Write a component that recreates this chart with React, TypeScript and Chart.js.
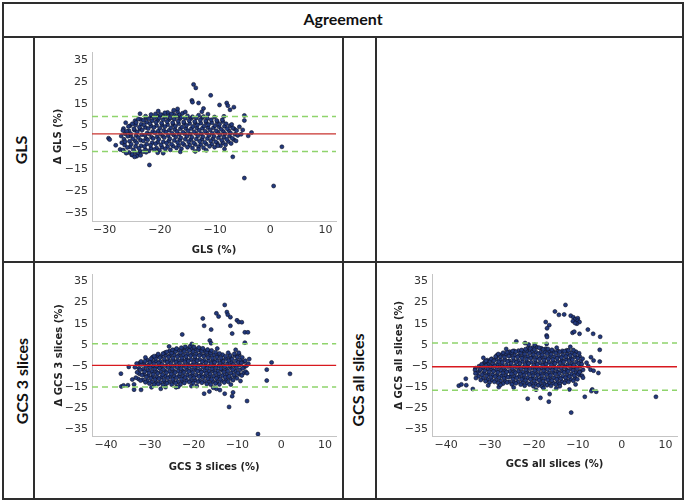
import React, { useEffect, useRef } from "react";
import { Chart, registerables } from "chart.js";

Chart.register(...registerables);

// ---------- data ----------
const Y_TICKS = [-35, -25, -15, -5, 5, 15, 25, 35];
const GLS_X_TICKS = [-30, -20, -10, 0, 10];
const GCS_X_TICKS = [-40, -30, -20, -10, 0, 10];

const GLS_X_RANGE = [-32.3, 11.9];
const GLS_Y_RANGE = [-38.6, 38.6];
const GCS_X_RANGE = [-43.2, 12.6];
const GCS_Y_RANGE = [-38.3, 38.3];

// [upper limit, mean bias, lower limit]
const GLS_LIMITS = [9.1, 1.2, -6.8];
const GCS3_LIMITS = [5.5, -4.8, -15.1];
const GCSALL_LIMITS = [5.8, -5.4, -16.6];

const GLS_POINTS: number[][] = [
  [-27.2, -5.9], [-26.9, -2.8], [-27.0, 0.2], [-26.7, 2.7],
  [-26.1, -7.6], [-25.9, -5.0], [-26.3, -2.4], [-25.8, 0.1], [-26.0, 2.4], [-25.7, 4.6],
  [-25.1, -8.4], [-24.8, -6.1], [-25.2, -3.5], [-24.9, -1.0], [-25.3, 1.3], [-24.7, 3.5], [-25.0, 5.8],
  [-24.0, -7.9], [-23.8, -5.4], [-24.2, -2.9], [-23.9, -0.5], [-24.1, 2.0], [-23.7, 4.2], [-24.3, 6.4], [-23.9, 8.0],
  [-23.1, -7.0], [-22.8, -4.6], [-23.0, -2.0], [-22.7, 0.6], [-23.2, 3.0], [-22.9, 5.3], [-23.0, 7.4], [-22.6, 9.3],
  [-22.0, -6.6], [-21.7, -4.0], [-22.2, -1.5], [-21.9, 1.1], [-22.1, 3.6], [-21.8, 5.9], [-22.0, 8.1], [-21.6, 10.0],
  [-21.0, -6.0], [-20.8, -3.3], [-21.2, -0.9], [-20.9, 1.7], [-21.1, 4.1], [-20.7, 6.5], [-21.0, 8.6], [-20.8, 10.3],
  [-20.1, -6.3], [-19.8, -3.8], [-20.2, -1.2], [-19.9, 1.3], [-20.0, 3.8], [-19.7, 6.1], [-20.1, 8.4], [-19.9, 10.1],
  [-19.0, -5.7], [-18.8, -3.0], [-19.2, -0.5], [-18.9, 2.0], [-19.1, 4.5], [-18.7, 6.8], [-19.0, 8.9], [-18.6, 11.0],
  [-18.1, -6.1], [-17.9, -3.5], [-18.2, -1.0], [-17.8, 1.5], [-18.0, 4.0], [-17.7, 6.3], [-18.1, 8.5], [-17.9, 10.4],
  [-17.0, -5.2], [-16.8, -2.7], [-17.1, -0.2], [-16.9, 2.3], [-17.2, 4.7], [-16.7, 7.0], [-17.0, 9.2], [-16.8, 11.3],
  [-16.1, -5.6], [-15.9, -3.1], [-16.2, -0.6], [-15.8, 1.9], [-16.0, 4.3], [-15.7, 6.6], [-16.1, 8.8], [-15.9, 10.6],
  [-15.0, -4.9], [-14.8, -2.4], [-15.1, 0.1], [-14.9, 2.6], [-15.2, 5.0], [-14.7, 7.3], [-15.0, 9.4],
  [-14.1, -5.3], [-13.9, -2.8], [-14.2, -0.3], [-13.8, 2.2], [-14.0, 4.6], [-13.7, 6.9], [-14.1, 9.0],
  [-13.0, -4.8], [-12.8, -2.2], [-13.1, 0.3], [-12.9, 2.8], [-13.2, 5.2], [-12.7, 7.5], [-13.0, 9.7],
  [-12.1, -5.1], [-11.9, -2.6], [-12.2, -0.1], [-11.8, 2.4], [-12.0, 4.8], [-11.7, 7.1], [-12.1, 9.1],
  [-11.0, -4.5], [-10.8, -2.0], [-11.1, 0.5], [-10.9, 3.0], [-11.2, 5.4], [-10.7, 7.6],
  [-10.1, -4.9], [-9.9, -2.4], [-10.2, 0.1], [-9.8, 2.6], [-10.0, 5.0], [-9.7, 7.3], [-10.1, 8.9],
  [-9.0, -4.2], [-8.8, -1.7], [-9.1, 0.8], [-8.9, 3.3], [-9.2, 5.6], [-8.7, 7.6],
  [-8.1, -3.8], [-7.9, -1.3], [-8.2, 1.2], [-7.8, 3.6], [-8.0, 5.8],
  [-7.1, -3.2], [-6.9, -0.8], [-7.2, 1.6], [-6.8, 3.9], [-7.0, 5.5],
  [-6.2, -2.0], [-5.9, 0.5], [-6.1, 2.7], [-5.6, 4.4],
  [-5.3, 1.0], [-5.0, 3.0],
  [-13.9, 23.8], [-13.5, 22.2], [-10.8, 18.8], [-14.2, 16.5], [-14.1, 15.7], [-13.0, 15.3],
  [-9.2, 14.4], [-7.9, 15.3], [-7.7, 14.1], [-6.6, 13.4], [-7.3, 12.2], [-12.1, 12.8], [-12.4, 11.3],
  [-17.5, 12.0], [-16.8, 12.6], [-19.1, 10.8], [-4.7, 9.6], [-4.7, 7.3], [-4.0, 0.3], [-3.4, 1.8],
  [-29.3, -0.8], [-29.1, -1.4], [2.1, -4.7], [0.6, -22.6], [-4.7, -19.0], [-6.8, -9.3], [-21.9, -13.0],
  [-26.7, -6.2], [-25.0, -8.2], [-22.5, -7.2], [-13.6, -6.8], [-13.0, -5.9], [-9.5, -4.2],
  [-24.2, -9.0], [-23.5, -8.6], [-20.4, -7.4],
  [-23.6, 10.4], [-20.3, 11.6], [-15.4, 11.2], [-11.3, 10.2], [-8.4, 9.2], [-26.2, 6.3],
  [-24.6, -9.3], [-19.4, -7.6], [-16.3, -7.0], [-11.6, -6.3], [-8.3, -5.7], [-28.0, -4.0],
];

const GLS_FILL: number[][] = [
  [-26.6, -6.5], [-26.4, -3.9], [-26.5, -1.3], [-26.3, 1.3], [-26.6, 3.6],
  [-25.6, -7.3], [-25.4, -4.8], [-25.5, -2.2], [-25.3, 0.3], [-25.6, 2.6], [-25.4, 4.9],
  [-24.6, -7.0], [-24.4, -4.5], [-24.5, -2.0], [-24.3, 0.5], [-24.6, 2.9], [-24.4, 5.2], [-24.5, 7.2],
  [-23.6, -6.7], [-23.4, -4.2], [-23.5, -1.7], [-23.3, 0.8], [-23.6, 3.3], [-23.4, 5.6], [-23.5, 7.8],
  [-22.6, -6.0], [-22.4, -3.4], [-22.5, -0.9], [-22.3, 1.6], [-22.6, 4.1], [-22.4, 6.5], [-22.5, 8.6],
  [-21.6, -5.4], [-21.4, -2.8], [-21.5, -0.3], [-21.3, 2.3], [-21.6, 4.8], [-21.4, 7.2], [-21.5, 9.3],
  [-20.6, -5.2], [-20.4, -2.6], [-20.5, -0.1], [-20.3, 2.5], [-20.6, 5.0], [-20.4, 7.4], [-20.5, 9.4],
  [-19.6, -4.9], [-19.4, -2.4], [-19.5, 0.2], [-19.3, 2.7], [-19.6, 5.2], [-19.4, 7.6], [-19.5, 9.7],
  [-18.6, -4.6], [-18.4, -2.1], [-18.5, 0.4], [-18.3, 2.9], [-18.6, 5.4], [-18.4, 7.7], [-18.5, 9.9],
  [-17.6, -4.4], [-17.4, -1.8], [-17.5, 0.7], [-17.3, 3.2], [-17.6, 5.6], [-17.4, 7.9], [-17.5, 10.1],
  [-16.6, -4.1], [-16.4, -1.5], [-16.5, 1.0], [-16.3, 3.5], [-16.6, 5.8], [-16.4, 8.1], [-16.5, 10.0],
  [-15.6, -3.8], [-15.4, -1.3], [-15.5, 1.2], [-15.3, 3.7], [-15.6, 6.0], [-15.4, 8.3],
  [-14.6, -3.9], [-14.4, -1.4], [-14.5, 1.1], [-14.3, 3.6], [-14.6, 5.9], [-14.4, 8.2],
  [-13.6, -3.6], [-13.4, -1.1], [-13.5, 1.4], [-13.3, 3.9], [-13.6, 6.2], [-13.4, 8.5],
  [-12.6, -3.7], [-12.4, -1.2], [-12.5, 1.3], [-12.3, 3.8], [-12.6, 6.1], [-12.4, 8.4],
  [-11.6, -3.4], [-11.4, -0.9], [-11.5, 1.6], [-11.3, 4.1], [-11.6, 6.4], [-11.4, 8.2],
  [-10.6, -3.5], [-10.4, -1.0], [-10.5, 1.5], [-10.3, 4.0], [-10.6, 6.3],
  [-9.6, -3.1], [-9.4, -0.6], [-9.5, 1.9], [-9.3, 4.4], [-9.6, 6.6],
  [-8.6, -2.8], [-8.4, -0.2], [-8.5, 2.3], [-8.3, 4.7], [-8.6, 6.8],
  [-7.6, -2.3], [-7.4, 0.2], [-7.5, 2.6], [-7.3, 4.9],
  [-6.6, -1.5], [-6.4, 1.0], [-6.5, 3.4],
];

const GCS3_POINTS: number[][] = [
  [-33.2, -10.6], [-32.9, -8.1], [-33.4, -5.7], [-33.0, -3.9],
  [-32.1, -12.0], [-31.8, -9.4], [-32.2, -6.9], [-31.9, -4.4], [-32.0, -2.9],
  [-31.0, -12.8], [-30.8, -10.3], [-31.2, -7.8], [-30.9, -5.3], [-31.1, -2.8],
  [-30.1, -13.4], [-29.8, -10.9], [-30.2, -8.4], [-29.9, -5.9], [-30.0, -3.4], [-29.7, -1.6],
  [-29.0, -13.9], [-28.8, -11.5], [-29.2, -9.0], [-28.9, -6.5], [-29.1, -4.0], [-28.7, -1.5], [-29.0, -0.4],
  [-28.1, -13.6], [-27.9, -11.1], [-28.2, -8.6], [-27.8, -6.1], [-28.0, -3.6], [-27.7, -1.1], [-28.1, 0.6],
  [-27.0, -14.1], [-26.8, -11.7], [-27.1, -9.2], [-26.9, -6.7], [-27.2, -4.2], [-26.7, -1.7], [-27.0, 0.8],
  [-26.1, -13.3], [-25.9, -10.8], [-26.2, -8.3], [-25.8, -5.8], [-26.0, -3.3], [-25.7, -0.8], [-26.1, 1.6],
  [-25.0, -13.9], [-24.8, -11.4], [-25.1, -8.9], [-24.9, -6.4], [-25.2, -3.9], [-24.7, -1.4], [-25.0, 1.1], [-24.8, 2.6],
  [-24.1, -13.2], [-23.9, -10.7], [-24.2, -8.2], [-23.8, -5.7], [-24.0, -3.2], [-23.7, -0.7], [-24.1, 1.8], [-23.9, 3.2],
  [-23.0, -13.8], [-22.8, -11.3], [-23.1, -8.8], [-22.9, -6.3], [-23.2, -3.8], [-22.7, -1.3], [-23.0, 1.2], [-22.8, 3.6],
  [-22.1, -13.1], [-21.9, -10.6], [-22.2, -8.1], [-21.8, -5.6], [-22.0, -3.1], [-21.7, -0.6], [-22.1, 1.9], [-21.9, 4.1],
  [-21.0, -12.7], [-20.8, -10.2], [-21.1, -7.7], [-20.9, -5.2], [-21.2, -2.7], [-20.7, -0.2], [-21.0, 2.3], [-20.8, 4.3],
  [-20.1, -13.2], [-19.9, -10.7], [-20.2, -8.2], [-19.8, -5.7], [-20.0, -3.2], [-19.7, -0.7], [-20.1, 1.8], [-19.9, 3.9],
  [-19.0, -12.6], [-18.8, -10.1], [-19.1, -7.6], [-18.9, -5.1], [-19.2, -2.6], [-18.7, -0.1], [-19.0, 2.4], [-18.8, 3.7],
  [-18.1, -13.0], [-17.9, -10.5], [-18.2, -8.0], [-17.8, -5.5], [-18.0, -3.0], [-17.7, -0.5], [-18.1, 2.0], [-17.9, 3.3],
  [-17.0, -13.6], [-16.8, -11.1], [-17.1, -8.6], [-16.9, -6.1], [-17.2, -3.6], [-16.7, -1.1], [-17.0, 1.4], [-16.8, 2.7],
  [-16.1, -13.9], [-15.9, -11.4], [-16.2, -8.9], [-15.8, -6.4], [-16.0, -3.9], [-15.7, -1.4], [-16.1, 1.1], [-15.9, 2.3],
  [-15.0, -13.4], [-14.8, -10.9], [-15.1, -8.4], [-14.9, -5.9], [-15.2, -3.4], [-14.7, -0.9], [-15.0, 1.5],
  [-14.1, -13.8], [-13.9, -11.3], [-14.2, -8.8], [-13.8, -6.3], [-14.0, -3.8], [-13.7, -1.3], [-14.1, 0.9],
  [-13.0, -12.9], [-12.8, -10.4], [-13.1, -7.9], [-12.9, -5.4], [-13.2, -2.9], [-12.7, -0.4],
  [-12.1, -12.5], [-11.9, -10.0], [-12.2, -7.5], [-11.8, -5.0], [-12.0, -2.5], [-11.7, 0.0], [-12.1, 1.2],
  [-11.0, -11.8], [-10.8, -9.3], [-11.1, -6.8], [-10.9, -4.3], [-11.2, -1.8], [-10.7, 0.7],
  [-10.1, -10.9], [-9.9, -8.4], [-10.2, -5.9], [-9.8, -3.4], [-10.0, -0.9], [-9.7, 1.2],
  [-9.0, -9.6], [-8.8, -6.2], [-9.1, -3.6], [-8.9, -1.0],
  [-8.1, -7.8], [-7.9, -4.9], [-8.2, -2.6],
  [-12.9, 23.9], [-12.4, 20.5], [-12.2, 19.3], [-14.8, 19.9], [-14.3, 18.4], [-11.6, 18.1],
  [-17.9, 17.5], [-17.6, 14.0], [-10.1, 16.6], [-9.7, 15.8], [-9.0, 15.7], [-11.6, 14.0],
  [-16.0, 12.2], [-11.2, 10.3], [-8.3, 10.9], [-7.6, 10.9], [-22.6, 9.9], [-16.3, 7.0], [-16.0, 5.7],
  [-8.3, 6.0], [-7.3, -1.8], [-2.2, -3.4], [-3.3, -6.8], [2.0, -8.8], [-3.3, -12.0],
  [-36.6, -8.7], [-36.5, -14.8], [-36.0, -14.3], [-35.0, -14.2], [-33.6, -13.8], [-32.0, -16.4],
  [-33.6, -16.3], [-34.0, -11.5], [-27.5, -15.9], [-26.4, -15.1], [-17.6, -18.2], [-16.4, -17.2],
  [-14.8, -15.9], [-12.9, -18.2], [-11.2, -19.4], [-11.0, -17.6], [-11.9, -24.5], [-7.8, -21.7],
  [-5.3, -37.4], [-7.8, -8.5], [-7.5, -4.0], [-34.8, -5.5], [-14.0, -16.5], [-20.5, -14.6], [-24.0, -15.2],
  [-25.6, 4.2], [-20.4, 5.4], [-14.6, 3.2], [-10.4, 2.6], [-31.0, -1.0],
  [-29.6, -15.2], [-23.5, -14.9], [-19.3, -14.6], [-15.5, -15.4], [-11.5, -13.9], [-9.3, -12.2],
];

const GCS3_FILL: number[][] = [
  [-32.6, -11.2], [-32.4, -8.7], [-32.5, -6.2], [-32.3, -3.6],
  [-31.6, -11.6], [-31.4, -9.1], [-31.5, -6.6], [-31.3, -4.1],
  [-30.6, -12.1], [-30.4, -9.6], [-30.5, -7.1], [-30.3, -4.6], [-30.6, -2.2],
  [-29.6, -12.7], [-29.4, -10.2], [-29.5, -7.7], [-29.3, -5.2], [-29.6, -2.7], [-29.4, -0.9],
  [-28.6, -12.8], [-28.4, -10.3], [-28.5, -7.8], [-28.3, -5.3], [-28.6, -2.8], [-28.4, -0.3],
  [-27.6, -12.9], [-27.4, -10.4], [-27.5, -7.9], [-27.3, -5.4], [-27.6, -2.9], [-27.4, -0.4],
  [-26.6, -12.5], [-26.4, -10.0], [-26.5, -7.5], [-26.3, -5.0], [-26.6, -2.5], [-26.4, 0.0], [-26.5, 1.3],
  [-25.6, -12.6], [-25.4, -10.1], [-25.5, -7.6], [-25.3, -5.1], [-25.6, -2.6], [-25.4, -0.1], [-25.5, 2.0],
  [-24.6, -12.4], [-24.4, -9.9], [-24.5, -7.4], [-24.3, -4.9], [-24.6, -2.4], [-24.4, 0.1], [-24.5, 2.4],
  [-23.6, -12.5], [-23.4, -10.0], [-23.5, -7.5], [-23.3, -5.0], [-23.6, -2.5], [-23.4, 0.0], [-23.5, 2.5],
  [-22.6, -12.3], [-22.4, -9.8], [-22.5, -7.3], [-22.3, -4.8], [-22.6, -2.3], [-22.4, 0.2], [-22.5, 2.7],
  [-21.6, -11.9], [-21.4, -9.4], [-21.5, -6.9], [-21.3, -4.4], [-21.6, -1.9], [-21.4, 0.6], [-21.5, 3.1],
  [-20.6, -12.0], [-20.4, -9.5], [-20.5, -7.0], [-20.3, -4.5], [-20.6, -2.0], [-20.4, 0.5], [-20.5, 3.0],
  [-19.6, -11.8], [-19.4, -9.3], [-19.5, -6.8], [-19.3, -4.3], [-19.6, -1.8], [-19.4, 0.7], [-19.5, 2.9],
  [-18.6, -12.0], [-18.4, -9.5], [-18.5, -7.0], [-18.3, -4.5], [-18.6, -2.0], [-18.4, 0.5], [-18.5, 2.6],
  [-17.6, -12.3], [-17.4, -9.8], [-17.5, -7.3], [-17.3, -4.8], [-17.6, -2.3], [-17.4, 0.2], [-17.5, 2.2],
  [-16.6, -12.6], [-16.4, -10.1], [-16.5, -7.6], [-16.3, -5.1], [-16.6, -2.6], [-16.4, -0.1], [-16.5, 1.8],
  [-15.6, -12.4], [-15.4, -9.9], [-15.5, -7.4], [-15.3, -4.9], [-15.6, -2.4], [-15.4, 0.1],
  [-14.6, -12.5], [-14.4, -10.0], [-14.5, -7.5], [-14.3, -5.0], [-14.6, -2.5], [-14.4, 0.0],
  [-13.6, -12.1], [-13.4, -9.6], [-13.5, -7.1], [-13.3, -4.6], [-13.6, -2.1], [-13.4, 0.3],
  [-12.6, -11.5], [-12.4, -9.0], [-12.5, -6.5], [-12.3, -4.0], [-12.6, -1.5],
  [-11.6, -10.9], [-11.4, -8.4], [-11.5, -5.9], [-11.3, -3.4], [-11.6, -0.9],
  [-10.6, -10.1], [-10.4, -7.6], [-10.5, -5.1], [-10.3, -2.6], [-10.6, -0.1],
  [-9.6, -9.0], [-9.4, -6.9], [-9.5, -4.6], [-9.3, -2.2], [-9.6, 0.3],
  [-8.6, -8.4], [-8.4, -5.6], [-8.5, -3.1],
];

const GCSALL_POINTS: number[][] = [
  [-33.2, -10.8], [-32.9, -8.4], [-33.3, -6.1],
  [-32.1, -11.7], [-31.8, -9.2], [-32.2, -6.7], [-31.9, -4.3],
  [-31.0, -12.3], [-30.8, -9.8], [-31.2, -7.3], [-30.9, -4.8], [-31.1, -3.1],
  [-30.1, -12.9], [-29.8, -10.4], [-30.2, -7.9], [-29.9, -5.4], [-30.0, -2.9], [-29.7, -1.8],
  [-29.0, -12.6], [-28.8, -10.1], [-29.2, -7.6], [-28.9, -5.1], [-29.1, -2.6], [-28.7, -0.6],
  [-28.1, -13.1], [-27.9, -10.6], [-28.2, -8.1], [-27.8, -5.6], [-28.0, -3.1], [-27.7, -0.6], [-28.1, 0.6],
  [-27.0, -13.4], [-26.8, -10.9], [-27.1, -8.4], [-26.9, -5.9], [-27.2, -3.4], [-26.7, -0.9], [-27.0, 1.2],
  [-26.1, -12.9], [-25.9, -10.4], [-26.2, -7.9], [-25.8, -5.4], [-26.0, -2.9], [-25.7, -0.4], [-26.1, 1.5],
  [-25.0, -13.8], [-24.8, -11.3], [-25.1, -8.8], [-24.9, -6.3], [-25.2, -3.8], [-24.7, -1.3], [-25.0, 1.2], [-24.8, 2.0],
  [-24.1, -13.3], [-23.9, -10.8], [-24.2, -8.3], [-23.8, -5.8], [-24.0, -3.3], [-23.7, -0.8], [-24.1, 1.7],
  [-23.0, -13.9], [-22.8, -11.4], [-23.1, -8.9], [-22.9, -6.4], [-23.2, -3.9], [-22.7, -1.4], [-23.0, 1.1], [-22.8, 2.5],
  [-22.1, -14.4], [-21.9, -11.9], [-22.2, -9.4], [-21.8, -6.9], [-22.0, -4.4], [-21.7, -1.9], [-22.1, 0.6], [-21.9, 2.9],
  [-21.0, -13.9], [-20.8, -11.4], [-21.1, -8.9], [-20.9, -6.4], [-21.2, -3.9], [-20.7, -1.4], [-21.0, 1.1], [-20.8, 3.2],
  [-20.1, -14.7], [-19.9, -12.2], [-20.2, -9.7], [-19.8, -7.2], [-20.0, -4.7], [-19.7, -2.2], [-20.1, 0.3], [-19.9, 2.7],
  [-19.0, -14.3], [-18.8, -11.8], [-19.1, -9.3], [-18.9, -6.8], [-19.2, -4.3], [-18.7, -1.8], [-19.0, 0.7], [-18.8, 3.6],
  [-18.1, -14.8], [-17.9, -12.3], [-18.2, -9.8], [-17.8, -7.3], [-18.0, -4.8], [-17.7, -2.3], [-18.1, 0.2], [-17.9, 2.8],
  [-17.0, -14.2], [-16.8, -11.7], [-17.1, -9.2], [-16.9, -6.7], [-17.2, -4.2], [-16.7, -1.7], [-17.0, 0.8], [-16.8, 3.0],
  [-16.1, -14.5], [-15.9, -12.0], [-16.2, -9.5], [-15.8, -7.0], [-16.0, -4.5], [-15.7, -2.0], [-16.1, 0.5], [-15.9, 2.6],
  [-15.0, -13.9], [-14.8, -11.4], [-15.1, -8.9], [-14.9, -6.4], [-15.2, -3.9], [-14.7, -1.4], [-15.0, 1.1],
  [-14.1, -13.6], [-13.9, -11.1], [-14.2, -8.6], [-13.8, -6.1], [-14.0, -3.6], [-13.7, -1.1], [-14.1, 1.6],
  [-13.0, -13.1], [-12.8, -10.6], [-13.1, -8.1], [-12.9, -5.6], [-13.2, -3.1], [-12.7, -0.6], [-13.0, 1.9],
  [-12.1, -12.6], [-11.9, -10.1], [-12.2, -7.6], [-11.8, -5.1], [-12.0, -2.6], [-11.7, -0.1], [-12.1, 2.3],
  [-11.0, -12.1], [-10.8, -9.6], [-11.1, -7.1], [-10.9, -4.6], [-11.2, -2.1], [-10.7, 0.4], [-11.0, 2.5],
  [-10.1, -11.4], [-9.9, -8.9], [-10.2, -6.4], [-9.8, -3.9], [-10.0, -1.4], [-9.7, 1.0],
  [-9.0, -9.7], [-8.8, -6.9], [-9.1, -4.2], [-8.9, -1.6],
  [-12.8, 23.9], [-15.2, 20.8], [-14.3, 19.2], [-13.1, 19.4], [-11.6, 18.8], [-11.0, 18.0],
  [-10.6, 17.1], [-10.0, 17.6], [-10.0, 16.4], [-9.6, 15.8], [-10.2, 15.0], [-11.1, 16.2], [-10.6, 15.3],
  [-17.3, 15.8], [-16.5, 14.3], [-17.0, 12.8], [-7.7, 12.2], [-11.2, 10.7], [-10.8, 11.2], [-6.5, 10.2],
  [-4.9, 8.8], [-9.6, 10.2], [-17.1, 9.4], [-17.0, 8.7], [-17.1, 5.4], [-24.0, 6.6], [-22.0, 5.8], [-21.2, 5.1],
  [-5.0, 2.6], [-5.0, -3.0], [-6.4, -2.5], [-7.0, -0.9], [-7.1, -6.8], [-6.4, -7.3], [-5.3, -8.4],
  [-8.8, -10.6], [-9.6, -8.0], [-6.7, -16.2], [-6.9, -17.0], [-5.8, -17.3], [-8.4, -19.7], [7.8, -19.7],
  [-11.5, -27.2], [-21.4, -20.6], [-18.5, -20.2], [-16.6, -22.0], [-16.4, -18.4], [-17.8, -15.6],
  [-14.1, -14.7], [-11.9, -16.2], [-37.1, -14.4], [-36.5, -13.8], [-35.5, -11.1], [-35.4, -14.2],
  [-33.9, -16.0], [-33.4, -7.0], [-33.3, -8.6], [-30.9, -2.6], [-28.0, -15.1], [-27.6, -14.1],
  [-8.0, -3.5], [-7.6, -5.2],
  [-26.3, 3.0], [-19.8, 5.0], [-14.8, 3.6], [-11.7, 4.0], [-31.5, -1.2],
  [-30.4, -14.3], [-24.6, -15.3], [-19.5, -16.3], [-14.9, -15.8], [-10.5, -13.8],
];

const GCSALL_FILL: number[][] = [
  [-32.6, -10.0], [-32.4, -7.5], [-32.5, -5.2],
  [-31.6, -10.9], [-31.4, -8.4], [-31.5, -5.9], [-31.3, -3.6],
  [-30.6, -11.5], [-30.4, -9.0], [-30.5, -6.5], [-30.3, -4.0], [-30.6, -2.3],
  [-29.6, -11.7], [-29.4, -9.2], [-29.5, -6.7], [-29.3, -4.2], [-29.6, -1.7],
  [-28.6, -11.8], [-28.4, -9.3], [-28.5, -6.8], [-28.3, -4.3], [-28.6, -1.8], [-28.4, 0.0],
  [-27.6, -12.2], [-27.4, -9.7], [-27.5, -7.2], [-27.3, -4.7], [-27.6, -2.2], [-27.4, 0.3],
  [-26.6, -12.1], [-26.4, -9.6], [-26.5, -7.1], [-26.3, -4.6], [-26.6, -2.1], [-26.4, 0.4],
  [-25.6, -12.6], [-25.4, -10.1], [-25.5, -7.6], [-25.3, -5.1], [-25.6, -2.6], [-25.4, -0.1], [-25.5, 1.7],
  [-24.6, -12.5], [-24.4, -10.0], [-24.5, -7.5], [-24.3, -5.0], [-24.6, -2.5], [-24.4, 0.0], [-24.5, 2.1],
  [-23.6, -12.6], [-23.4, -10.1], [-23.5, -7.6], [-23.3, -5.1], [-23.6, -2.6], [-23.4, -0.1], [-23.5, 2.2],
  [-22.6, -13.0], [-22.4, -10.5], [-22.5, -8.0], [-22.3, -5.5], [-22.6, -3.0], [-22.4, -0.5], [-22.5, 2.0],
  [-21.6, -13.1], [-21.4, -10.6], [-21.5, -8.1], [-21.3, -5.6], [-21.6, -3.1], [-21.4, -0.6], [-21.5, 1.9], [-21.3, 3.5],
  [-20.6, -13.3], [-20.4, -10.8], [-20.5, -8.3], [-20.3, -5.8], [-20.6, -3.3], [-20.4, -0.8], [-20.5, 1.7], [-20.3, 3.6],
  [-19.6, -13.5], [-19.4, -11.0], [-19.5, -8.5], [-19.3, -6.0], [-19.6, -3.5], [-19.4, -1.0], [-19.5, 1.5], [-19.3, 3.8],
  [-18.6, -13.6], [-18.4, -11.1], [-18.5, -8.6], [-18.3, -6.1], [-18.6, -3.6], [-18.4, -1.1], [-18.5, 1.4], [-18.3, 3.3],
  [-17.6, -13.5], [-17.4, -11.0], [-17.5, -8.5], [-17.3, -6.0], [-17.6, -3.5], [-17.4, -1.0], [-17.5, 1.5], [-17.3, 3.1],
  [-16.6, -13.3], [-16.4, -10.8], [-16.5, -8.3], [-16.3, -5.8], [-16.6, -3.3], [-16.4, -0.8], [-16.5, 1.7],
  [-15.6, -13.2], [-15.4, -10.7], [-15.5, -8.2], [-15.3, -5.7], [-15.6, -3.2], [-15.4, -0.7], [-15.5, 1.8],
  [-14.6, -12.8], [-14.4, -10.3], [-14.5, -7.8], [-14.3, -5.3], [-14.6, -2.8], [-14.4, -0.3], [-14.5, 2.0],
  [-13.6, -12.4], [-13.4, -9.9], [-13.5, -7.4], [-13.3, -4.9], [-13.6, -2.4], [-13.4, 0.1], [-13.5, 2.1],
  [-12.6, -11.9], [-12.4, -9.4], [-12.5, -6.9], [-12.3, -4.4], [-12.6, -1.9], [-12.4, 0.6], [-12.5, 2.4],
  [-11.6, -11.4], [-11.4, -8.9], [-11.5, -6.4], [-11.3, -3.9], [-11.6, -1.4], [-11.4, 1.1],
  [-10.6, -10.7], [-10.4, -8.2], [-10.5, -5.7], [-10.3, -3.2], [-10.6, -0.7], [-10.4, 1.7],
  [-9.6, -9.4], [-9.4, -7.6], [-9.5, -5.3], [-9.3, -2.8], [-9.6, -0.4],
];

// ---------- components ----------
const TICK_FONT = "'DejaVu Sans', sans-serif";

const fmt = (v: number | string) => {
  const n = Number(v);
  return n < 0 ? "\u2212" + Math.abs(n) : String(n);
};

type PlotProps = {
  left: number; top: number; width: number; height: number;
  area: number[]; // chart area in canvas coords: l, t, r, b
  points: number[][];
  xTicks: number[];
  xRange: number[];
  yRange: number[];
  limits: number[];
  xTitle: string;
  yTitle: string;
  yTitlePad: number;
  xTitlePad: number;
  meanColor: string;
};

function Plot(p: PlotProps) {
  const ref = useRef<HTMLCanvasElement | null>(null);
  useEffect(() => {
    if (!ref.current) return;
    const [l, t, r, b] = p.area;
    const [xMin, xMax] = p.xRange;
    const [yMin, yMax] = p.yRange;
    const hline = (y: number) => [{ x: xMin, y }, { x: xMax, y }];
    const chart = new Chart(ref.current, {
      type: "scatter",
      data: {
        datasets: [
          { data: hline(p.limits[1]), showLine: true, borderColor: p.meanColor, borderWidth: 1.4, pointRadius: 0 } as any,
          { data: hline(p.limits[0]), showLine: true, borderColor: "#8fd46c", borderWidth: 1.5, borderDash: [6, 4], pointRadius: 0 } as any,
          { data: hline(p.limits[2]), showLine: true, borderColor: "#8fd46c", borderWidth: 1.5, borderDash: [6, 4], pointRadius: 0 } as any,
          {
            data: p.points.map(([x, y]) => ({ x, y })),
            pointRadius: 2.0,
            pointBackgroundColor: "#233a7e",
            pointBorderColor: "#0b0f24",
            pointBorderWidth: 0.6,
            showLine: false,
          } as any,
        ],
      },
      options: {
        responsive: false,
        animation: false,
        events: [],
        layout: { padding: { left: 0, top: t, right: p.width - r, bottom: 0 } },
        plugins: { legend: { display: false }, tooltip: { enabled: false } },
        scales: {
          x: {
            type: "linear",
            min: xMin,
            max: xMax,
            grid: { display: false, drawTicks: false },
            border: { display: true, color: "#c4c4c4", width: 1 },
            ticks: { autoSkip: false, maxRotation: 0, padding: 3, color: "#333", font: { family: TICK_FONT, size: 11 }, callback: fmt },
            afterBuildTicks: (s: any) => { s.ticks = p.xTicks.map((v) => ({ value: v })); },
            afterFit: (s: any) => { s.height = p.height - b; },
            title: { display: true, text: p.xTitle, color: "#222", font: { family: TICK_FONT, size: 10, weight: "bold" }, padding: { top: 0, bottom: p.xTitlePad } },
          },
          y: {
            type: "linear",
            min: yMin,
            max: yMax,
            grid: { display: false, drawTicks: false },
            border: { display: true, color: "#c4c4c4", width: 1 },
            ticks: { autoSkip: false, padding: 4, color: "#333", font: { family: TICK_FONT, size: 11 }, callback: fmt },
            afterBuildTicks: (s: any) => { s.ticks = Y_TICKS.map((v) => ({ value: v })); },
            afterFit: (s: any) => { s.width = l; },
            title: { display: true, text: p.yTitle, color: "#222", font: { family: TICK_FONT, size: 10, weight: "bold" }, padding: { top: p.yTitlePad, bottom: 0 } },
          },
        },
      } as any,
    });
    return () => chart.destroy();
  }, []);
  return (
    <canvas
      ref={ref}
      width={p.width}
      height={p.height}
      style={{ position: "absolute", left: p.left, top: p.top, width: p.width, height: p.height }}
    />
  );
}

const LINE = "#2e2e2e";

function HLine({ y, x1, x2 }: { y: number; x1: number; x2: number }) {
  return <div style={{ position: "absolute", left: x1 - 1, top: y - 1, width: x2 - x1 + 2, height: 2, background: LINE }} />;
}
function VLine({ x, y1, y2 }: { x: number; y1: number; y2: number }) {
  return <div style={{ position: "absolute", left: x - 1, top: y1 - 1, width: 2, height: y2 - y1 + 2, background: LINE }} />;
}

function RowLabel({ x, y, text }: { x: number; y: number; text: string }) {
  return (
    <div
      style={{
        position: "absolute",
        left: x,
        top: y,
        transform: "translate(-50%, -50%) rotate(-90deg)",
        whiteSpace: "nowrap",
        font: "bold 16px Lato, 'Open Sans', sans-serif",
        color: "#111",
        lineHeight: "20px",
      }}
    >
      {text}
    </div>
  );
}

export default function App() {
  return (
    <div style={{ position: "absolute", left: 0, top: 0, width: 685, height: 503, background: "#fff", overflow: "hidden" }}>
      <HLine y={3} x1={3} x2={683} />
      <HLine y={37} x1={3} x2={683} />
      <HLine y={262} x1={3} x2={683} />
      <HLine y={499} x1={3} x2={683} />
      <VLine x={3} y1={3} y2={499} />
      <VLine x={683} y1={3} y2={499} />
      <VLine x={34} y1={37} y2={499} />
      <VLine x={343} y1={37} y2={499} />
      <VLine x={376} y1={37} y2={499} />

      <div
        style={{
          position: "absolute",
          left: 343,
          top: 19,
          transform: "translate(-50%, -50%)",
          whiteSpace: "nowrap",
          font: "bold 16px Lato, 'Open Sans', sans-serif",
          color: "#111",
          lineHeight: "20px",
        }}
      >
        Agreement
      </div>

      <RowLabel x={21} y={150} text="GLS" />
      <RowLabel x={22} y={381} text="GCS 3 slices" />
      <RowLabel x={358} y={380} text="GCS all slices" />

      <Plot
        left={36} top={39} width={305} height={221}
        area={[56, 13, 300, 182]}
        points={[...GLS_FILL, ...GLS_POINTS]}
        xTicks={GLS_X_TICKS}
        xRange={GLS_X_RANGE}
        yRange={GLS_Y_RANGE}
        limits={GLS_LIMITS}
        xTitle="GLS (%)"
        yTitle="Δ GLS (%)"
        yTitlePad={16}
        xTitlePad={4}
        meanColor="#c8332f"
      />
      <Plot
        left={36} top={264} width={305} height={234}
        area={[56, 6, 301, 172]}
        points={[...GCS3_FILL, ...GCS3_POINTS]}
        xTicks={GCS_X_TICKS}
        xRange={GCS_X_RANGE}
        yRange={GCS_Y_RANGE}
        limits={GCS3_LIMITS}
        xTitle="GCS 3 slices (%)"
        yTitle="Δ GCS 3 slices (%)"
        yTitlePad={17}
        xTitlePad={25}
        meanColor="#d8191f"
      />
      <Plot
        left={377} top={264} width={305} height={234}
        area={[55, 6, 300, 172]}
        points={[...GCSALL_FILL, ...GCSALL_POINTS]}
        xTicks={GCS_X_TICKS}
        xRange={GCS_X_RANGE}
        yRange={GCS_Y_RANGE}
        limits={GCSALL_LIMITS}
        xTitle="GCS all slices (%)"
        yTitle="Δ GCS all slices (%)"
        yTitlePad={16}
        xTitlePad={28}
        meanColor="#d8191f"
      />
    </div>
  );
}
